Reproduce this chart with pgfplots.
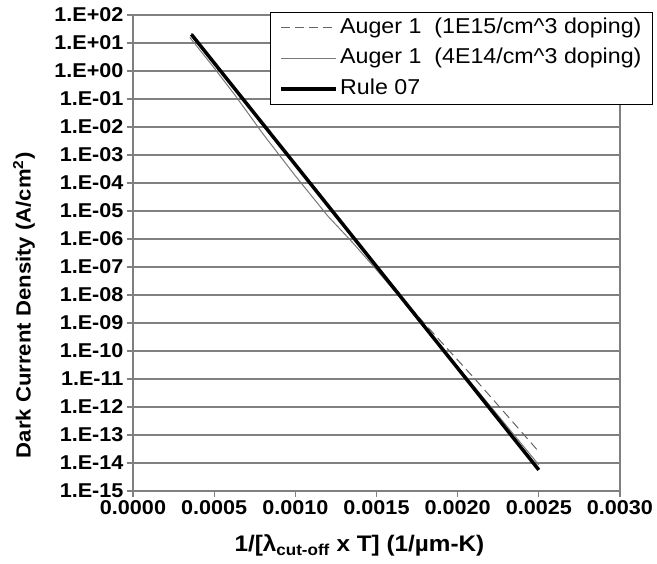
\documentclass[border=0pt]{standalone}
\usepackage{pgfplots}
\pgfplotsset{compat=1.18}
\usepackage{fontspec}
\setmainfont{Liberation Sans}[FakeStretch=1.08]
\definecolor{gridgray}{RGB}{128,128,128}
\definecolor{dashgray}{RGB}{100,100,100}
\definecolor{thingray}{RGB}{120,120,120}
\begin{document}
\begin{tikzpicture}
\begin{axis}[
  scale only axis, width=487pt, height=476pt,
  xmin=0, xmax=0.003, ymode=log, ymin=1e-15, ymax=1e2,
  clip=false, scaled x ticks=false,
  axis line style={gridgray, line width=1.2pt},
  xtick={0,0.0005,0.001,0.0015,0.002,0.0025,0.003},
  xticklabels={0.0000,0.0005,0.0010,0.0015,0.0020,0.0025,0.0030},
  ytick={1e-15,1e-14,1e-13,1e-12,1e-11,1e-10,1e-9,1e-8,1e-7,1e-6,1e-5,1e-4,1e-3,1e-2,1e-1,1e0,1e1,1e2},
  yticklabels={1.E-15,1.E-14,1.E-13,1.E-12,1.E-11,1.E-10,1.E-09,1.E-08,1.E-07,1.E-06,1.E-05,1.E-04,1.E-03,1.E-02,1.E-01,1.E+00,1.E+01,1.E+02},
  yminorticks=false, xminorticks=false,
  ymajorgrids, major grid style={gridgray, line width=1.2pt},
  tick align=outside, major tick length=6pt, tick style={gridgray, line width=1.2pt},
  xtick pos=left, ytick pos=left,
  ticklabel style={font=\fontsize{20}{24}\selectfont\bfseries},
  /pgf/number format/assume math mode=true,
  every axis y label/.style={at={(axis description cs:-0.2238,0.39)}, rotate=90, anchor=center},
  every axis x label/.style={at={(axis description cs:0.465,-0.1134)}, anchor=center},
  ylabel={\fontsize{20.5}{25}\selectfont\bfseries Dark Current Density (A/cm\textsuperscript{2})},
  xlabel={\fontsize{22.5}{27}\selectfont\bfseries 1/[λ\textsubscript{cut-off} x T] (1/µm-K)},
  legend cell align=left,
  legend style={at={(1.0678,1.006)}, anchor=north east, draw=black, line width=1pt, fill=white,
    font=\fontsize{21.5}{26}\selectfont, inner xsep=9pt, inner ysep=3pt,
    nodes={inner sep=2pt, text height=15.5pt, text depth=5pt}, row sep=6pt},
  legend image code/.code={\draw[#1] (0pt,0pt) -- (55pt,0pt);},
]
\addplot[dashgray, line width=1pt, dash pattern=on 9pt off 5pt] coordinates {
 (0.00036,22.2) (0.0007,6.84e-2) (0.0010,4.5e-4) (0.0013,2.98e-6) (0.0015,1.05e-7)
 (0.0017,3.95e-9) (0.0019,2.06e-10) (0.0021,1.10e-11) (0.0023,5.32e-13) (0.0025,2.53e-14)};
\addlegendentry{Auger 1\ \ (1E15/cm\textasciicircum 3 doping)}
\addplot[thingray, line width=1pt] coordinates {
 (0.00035,15.8) (0.0005,1.284) (0.00063,0.133) (0.0008,5.73e-3) (0.0010,1.80e-4)
 (0.0012,6.62e-6) (0.00135,7.78e-7) (0.0015,7.96e-8) (0.0017,3.44e-9) (0.00185,3.0e-10)
 (0.0021,5.5e-12) (0.0025,8.57e-15)};
\addlegendentry{Auger 1\ \ (4E14/cm\textasciicircum 3 doping)}
\addplot[black, line width=3.5pt] coordinates {
 (0.00036,20.2) (0.0010,4.51e-4) (0.0015,1.05e-7) (0.0020,2.44e-11) (0.0025,5.66e-15)};
\addlegendentry{Rule 07}
\path (axis description cs:-0.2731,-0.1513) rectangle (axis description cs:1.0760,1.0315);
\end{axis}
\end{tikzpicture}
\end{document}
